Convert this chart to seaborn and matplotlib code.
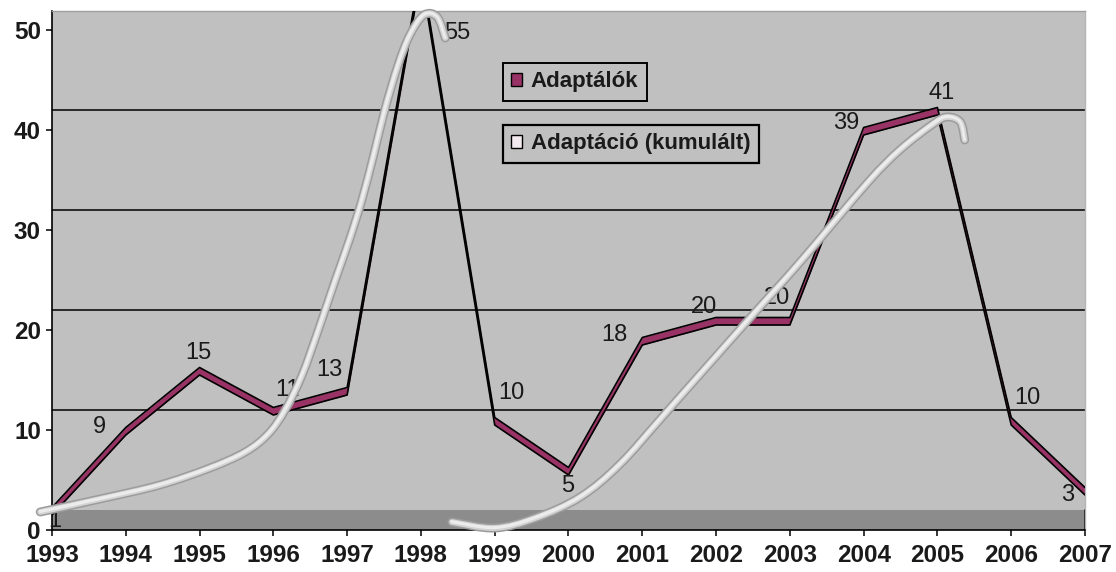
import numpy as np
import matplotlib
matplotlib.use("Agg")
import matplotlib.pyplot as plt
import seaborn as sns
from matplotlib.path import Path
from matplotlib.patches import PathPatch, Patch
import matplotlib.patheffects as pe

# ---- data -------------------------------------------------------------
years = np.arange(1993, 2008)
adapters = np.array([1, 9, 15, 11, 13, 55, 10, 5, 18, 20, 20, 39, 41, 10, 3])
year_labels = [str(y) for y in years]
y_ticks = [0, 10, 20, 30, 40, 50]

# hand-sketched cumulative adoption waves (year, value)
wave1_x = [1992.84, 1993.65, 1994.46, 1995.14, 1995.62, 1995.93, 1996.16, 1996.39,
           1996.61, 1996.84, 1997.03, 1997.20, 1997.36, 1997.51, 1997.69, 1997.85,
           1998.04, 1998.22, 1998.33]
wave1_y = [1.8, 3.1, 4.5, 6.2, 7.8, 9.6, 12.0, 15.5,
           20.0, 25.0, 29.0, 33.0, 37.5, 42.0, 46.5, 49.5,
           51.5, 51.3, 49.2]
wave2_x = [1998.42, 1999.00, 1999.55, 2000.16, 2000.70, 2001.33, 2002.46, 2003.14,
           2004.05, 2004.49, 2004.94, 2005.13, 2005.31, 2005.37]
wave2_y = [0.8, 0.2, 1.2, 3.3, 6.6, 11.8, 21.2, 26.8,
           34.7, 38.0, 40.6, 41.3, 40.8, 39.0]

legend_labels = ["Adaptálók", "Adaptáció (kumulált)"]

# ---- style --------------------------------------------------------------
WALL = "#c0c0c0"
FLOOR = "#8c8c8c"
RIBBON = "#993366"
DEPTH = 2.0                   # apparent depth of the 3-D wall, in y units
RIB_BOT, RIB_TOP = 0.5, 1.25  # ribbon lies between these offsets
TXT = "#1a1a1a"
# data label placement (pixels from the data point)
label_offsets = [(3, -1), (-26, 13), (-1, 27), (14, 30), (-18, 30), (36, -53),
                 (17, 37), (-1, -6), (-28, 15), (-12, 23), (-13, 32), (-17, 17),
                 (4, 27), (16, 32), (-17, 5)]

sns.set_theme(style="white")
plt.rcParams["font.family"] = ["Liberation Sans", "DejaVu Sans"]

fig = plt.figure(figsize=(11.16, 5.72), dpi=100)
fig.patch.set_facecolor("white")
ax = fig.add_axes([52 / 1116, 42 / 572, (1085 - 52) / 1116, (530 - 11) / 572])
ax.set_facecolor(WALL)
ax.set_xlim(years[0], years[-1])
ax.set_ylim(0, 51.9)

# floor and back-wall gridlines
ax.axhspan(0, DEPTH, color=FLOOR, lw=0, zorder=0.5)
for t in y_ticks[1:]:
    ax.axhline(t + DEPTH, color="black", lw=1.1, zorder=1)
ax.axvline(years[-1], ymax=DEPTH / 51.9, color="black", lw=1.2, zorder=1)

# ribbon line
ax.fill_between(years, adapters + RIB_BOT, adapters + RIB_TOP,
                color=RIBBON, lw=0, zorder=2)
sns.lineplot(x=years, y=adapters + RIB_TOP, color="black", lw=1.2, ax=ax, zorder=3)
sns.lineplot(x=years, y=adapters + RIB_BOT, color="black", lw=1.2, ax=ax, zorder=3)

# data labels
for x, v, (dx, dy) in zip(years, adapters, label_offsets):
    ax.annotate(str(v), xy=(x, v), xytext=(dx, dy), textcoords="offset pixels",
                ha="center", va="center", fontsize=17, color=TXT,
                annotation_clip=False, zorder=4)


def spline_path(xs, ys):
    """Catmull-Rom curve through the points, as cubic Bezier segments."""
    p = np.column_stack([xs, ys])
    ext = np.vstack([p[0], p, p[-1]])
    verts = [p[0]]
    codes = [Path.MOVETO]
    for i in range(1, len(ext) - 2):
        p0, p1, p2, p3 = ext[i - 1], ext[i], ext[i + 1], ext[i + 2]
        verts += [p1 + (p2 - p0) / 6, p2 - (p3 - p1) / 6, p2]
        codes += [Path.CURVE4] * 3
    return Path(verts, codes)


for wx, wy in [(wave1_x, wave1_y), (wave2_x, wave2_y)]:
    p = spline_path(wx, wy)
    tube = PathPatch(p, fill=False, lw=6.4, edgecolor="#9c9c9c",
                     capstyle="round", joinstyle="round", zorder=5, clip_on=False)
    ax.add_patch(tube)
    body = PathPatch(p, fill=False, lw=4.2, edgecolor="#d3d3d3",
                     capstyle="round", joinstyle="round", zorder=6, clip_on=False)
    ax.add_patch(body)
    shine = PathPatch(p, fill=False, lw=1.6, edgecolor="#ececec",
                      capstyle="round", joinstyle="round", zorder=7, clip_on=False)
    shine.set_path_effects([pe.Stroke(offset=(-0.4, 0.6)), pe.Normal()])
    ax.add_patch(shine)

# axes
ax.set_xticks(years, labels=year_labels)
ax.set_yticks(y_ticks, labels=[str(t) for t in y_ticks])
for lab in ax.get_xticklabels() + ax.get_yticklabels():
    lab.set_fontweight("bold")
    lab.set_color(TXT)
ax.tick_params(axis="both", labelsize=17.5, length=4, width=1.1, color="black",
               direction="out", bottom=True, left=True)
ax.tick_params(axis="x", pad=6)
ax.tick_params(axis="y", pad=4)
for side in ["left", "bottom"]:
    ax.spines[side].set_color("black")
    ax.spines[side].set_linewidth(1.2)
ax.spines["top"].set_color("#a0a0a0")
ax.spines["right"].set_color("#b4b4b4")
ax.spines["top"].set_linewidth(1.0)
ax.spines["right"].set_linewidth(1.0)
ax.grid(False)


# legend boxes
def legend_box(handle, label, top_px, pad=0.38):
    leg = ax.legend([handle], [label], loc="upper left",
                    bbox_to_anchor=(503 / 1116, 1 - top_px / 572),
                    bbox_transform=fig.transFigure, borderaxespad=0,
                    prop={"weight": "bold", "size": 16}, frameon=True,
                    fancybox=False, framealpha=1, facecolor=WALL,
                    edgecolor="black", borderpad=pad, handlelength=0.46,
                    handleheight=0.46, handletextpad=0.4)
    leg.get_frame().set_linewidth(1.4)
    for t in leg.get_texts():
        t.set_color(TXT)
    return leg


leg1 = legend_box(Patch(facecolor=RIBBON, edgecolor="black", lw=1), legend_labels[0], 63)
ax.add_artist(leg1)
leg2 = legend_box(Patch(facecolor="#f2eaee", edgecolor="black", lw=1), legend_labels[1], 125)
leg2.get_frame().set_linewidth(1.6)

fig.savefig("out.png", dpi=100, facecolor="white")
